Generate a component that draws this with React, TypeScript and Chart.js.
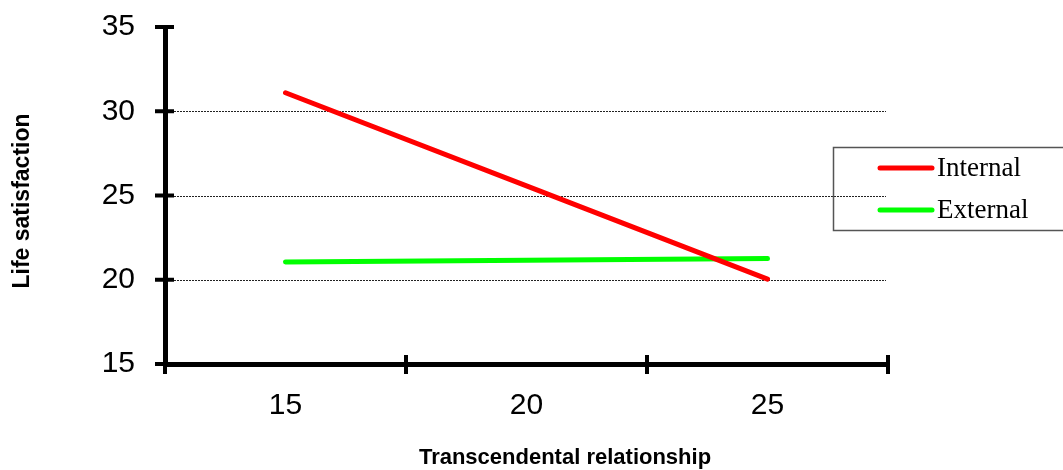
import React, { useEffect, useRef } from "react";
import { Chart, registerables } from "chart.js";

Chart.register(...registerables);

const categories = ["15", "20", "25"];
const internalValues = [31.1, 25.57, 20.04];
const externalValues = [21.05, 21.15, 21.26];
const yTickValues = [15, 20, 25, 30, 35];
const gridValues = [20, 25, 30];
const seriesNames = ["Internal", "External"];
const seriesColors = ["#FF0000", "#00FF00"];
const yTitle = "Life satisfaction";
const xTitle = "Transcendental relationship";

const decorPlugin = {
  id: "decor",
  beforeDatasetsDraw(chart: any) {
    const { ctx, chartArea } = chart;
    const y = chart.scales.y;
    ctx.save();
    ctx.strokeStyle = "#222";
    ctx.lineWidth = 1;
    ctx.setLineDash([2, 1]);
    gridValues.forEach((v) => {
      const py = Math.round(y.getPixelForValue(v)) + 0.5;
      ctx.beginPath();
      ctx.moveTo(chartArea.left, py);
      ctx.lineTo(chartArea.right - 2, py);
      ctx.stroke();
    });
    ctx.restore();
  },
  afterDraw(chart: any) {
    const { ctx, chartArea } = chart;
    const x = chart.scales.x;
    const y = chart.scales.y;
    ctx.save();
    ctx.strokeStyle = "#000";
    ctx.lineWidth = 4;
    ctx.setLineDash([]);
    yTickValues.forEach((v) => {
      const py = y.getPixelForValue(v);
      ctx.beginPath();
      ctx.moveTo(chartArea.left - 10, py);
      ctx.lineTo(chartArea.left + 9, py);
      ctx.stroke();
    });
    const p0 = x.getPixelForValue(0);
    const p1 = x.getPixelForValue(1);
    const half = (p1 - p0) / 2;
    for (let i = 0; i <= categories.length; i++) {
      const px = p0 - half + i * 2 * half;
      ctx.beginPath();
      ctx.moveTo(px, chartArea.bottom - 9);
      ctx.lineTo(px, chartArea.bottom + 10);
      ctx.stroke();
    }

    // axis titles
    ctx.fillStyle = "#000";
    ctx.textAlign = "center";
    ctx.textBaseline = "middle";
    ctx.font = "bold 22px 'Liberation Sans', Arial, sans-serif";
    ctx.fillText(xTitle, 565, 458);
    ctx.save();
    ctx.font = "bold 23px 'Liberation Sans', Arial, sans-serif";
    ctx.translate(23, 201);
    ctx.rotate(-Math.PI / 2);
    ctx.fillText(yTitle, 0, 0);
    ctx.restore();

    // legend
    ctx.strokeStyle = "#555";
    ctx.lineWidth = 1.5;
    ctx.strokeRect(833.5, 147.5, 300, 83);
    const rows = [168, 210];
    seriesNames.forEach((name, i) => {
      ctx.strokeStyle = seriesColors[i];
      ctx.lineWidth = 5;
      ctx.lineCap = "round";
      ctx.beginPath();
      ctx.moveTo(880, rows[i]);
      ctx.lineTo(932, rows[i]);
      ctx.stroke();
      ctx.fillStyle = "#000";
      ctx.font = "27px 'Liberation Serif', 'Times New Roman', serif";
      ctx.textAlign = "left";
      ctx.textBaseline = "middle";
      ctx.fillText(name, 937, rows[i] + 1);
    });
    ctx.restore();
  },
};

export default function App() {
  const canvasRef = useRef<HTMLCanvasElement | null>(null);

  useEffect(() => {
    const canvas = canvasRef.current;
    if (!canvas) return;
    const chart = new Chart(canvas, {
      type: "line",
      data: {
        labels: categories,
        datasets: [
          {
            label: seriesNames[0],
            data: internalValues,
            borderColor: seriesColors[0],
            backgroundColor: seriesColors[0],
            borderWidth: 5,
            borderCapStyle: "round",
            pointRadius: 0,
            tension: 0,
            fill: false,
          },
          {
            label: seriesNames[1],
            data: externalValues,
            borderColor: seriesColors[1],
            backgroundColor: seriesColors[1],
            borderWidth: 5,
            borderCapStyle: "round",
            pointRadius: 0,
            tension: 0,
            fill: false,
          },
        ],
      },
      options: {
        responsive: true,
        maintainAspectRatio: false,
        animation: false,
        devicePixelRatio: 1,
        layout: { padding: { left: 0, top: 27, right: 175, bottom: 0 } },
        plugins: {
          legend: { display: false },
          tooltip: { enabled: false },
          title: { display: false },
        },
        scales: {
          x: {
            type: "category",
            offset: true,
            grid: { display: false, drawTicks: false },
            border: { display: true, color: "#000", width: 5 },
            ticks: {
              color: "#000",
              font: { family: "'Liberation Sans', Arial, sans-serif", size: 30 },
              padding: 24,
              maxRotation: 0,
            },
            afterFit: (scale: any) => {
              scale.height = 106;
              scale.paddingLeft = 0;
              scale.paddingRight = 0;
            },
          },
          y: {
            min: 15,
            max: 35,
            grid: { display: false, drawTicks: false },
            border: { display: true, color: "#000", width: 5 },
            ticks: {
              stepSize: 5,
              color: "#000",
              font: { family: "'Liberation Sans', Arial, sans-serif", size: 30 },
              padding: 30,
            },
            afterFit: (scale: any) => {
              scale.width = 165;
              scale.paddingTop = 0;
              scale.paddingBottom = 0;
            },
          },
        },
      },
      plugins: [decorPlugin],
    });
    return () => chart.destroy();
  }, []);

  return (
    <div style={{ position: "absolute", left: 0, top: 0, width: 1063, height: 470, background: "#fff" }}>
      <canvas ref={canvasRef} />
    </div>
  );
}
